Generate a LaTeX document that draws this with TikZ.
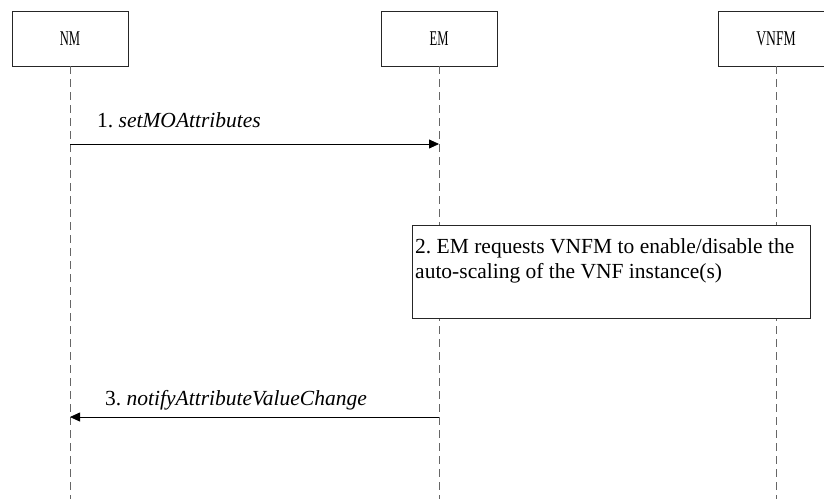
\documentclass[tikz,border=0pt]{standalone}
\usepackage{fontspec}
\setmainfont{Liberation Serif}
\usetikzlibrary{arrows.meta}
\frenchspacing
\begin{document}
\begin{tikzpicture}[x=1pt,y=-1pt,
  actor/.style={draw=black!85,line width=0.8pt,minimum width=116pt,minimum height=55pt,inner sep=0pt,font=\fontsize{21}{24}\selectfont},
  life/.style={draw=black!60,line width=0.8pt,dash pattern=on 8pt off 5pt},
  msg/.style={draw=black,line width=0.8pt,-{Triangle[length=10pt,width=9pt]}},
  lbl/.style={font=\fontsize{21.5}{25}\selectfont,anchor=base west,inner sep=0pt},
  stepbox/.style={draw=black!85,line width=0.8pt,minimum width=398pt,minimum height=93pt,inner sep=0pt}]
\useasboundingbox (0,0) rectangle (824,499);
\node[actor] (nm) at (70,38.5) {\scalebox{0.6}[1]{NM}};
\node[actor] (em) at (439,38.5) {\scalebox{0.6}[1]{EM}};
\node[actor] (vnfm) at (776,38.5) {\scalebox{0.65}[1]{VNFM}};
\coordinate (nmE) at (70,499);
\coordinate (emE) at (439,499);
\coordinate (vnfmE) at (776,499);
\draw[life] (nm.south) -- (nmE);
\draw[life] (em.south) -- (emE);
\draw[life] (vnfm.south) -- (vnfmE);
\node[stepbox,fill=white] (s2) at (611,271.5) {};
\node[lbl,align=left] (t2) at (415,278) {2. EM requests VNFM to enable/disable the\\auto-scaling of the VNF instance(s)};
\coordinate (a1s) at (70,144);
\coordinate (a1e) at (439,144);
\draw[msg] (a1s) -- (a1e);
\node[lbl] (l1) at (97,127) {1. \textit{setMOAttributes}};
\coordinate (a3s) at (439,417);
\coordinate (a3e) at (70,417);
\draw[msg] (a3s) -- (a3e);
\node[lbl] (l3) at (105,405) {3. \textit{notifyAttributeValueChange}};
\end{tikzpicture}
\end{document}
